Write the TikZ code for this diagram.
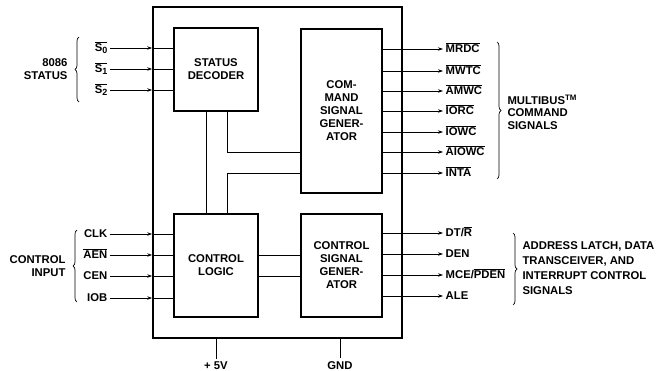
\documentclass[tikz,border=0pt]{standalone}
\usepackage{fontspec}
\setmainfont{Liberation Sans}
\usetikzlibrary{arrows.meta,decorations.pathreplacing}
\newcommand{\ovl}[1]{$\overline{\hbox{#1}}$}
\newcommand{\sidx}[1]{\raisebox{-2pt}{\fontsize{9}{9}\selectfont #1}}

\begin{document}
\begin{tikzpicture}[x=1pt,y=-1pt,font=\fontsize{11.3}{13}\selectfont\bfseries,line join=miter,
  blk/.style={draw,line width=1.6pt,align=center,inner sep=0pt},
  pin/.style={inner sep=2.5pt,text height=7.5pt,text depth=0.5pt},
  sig/.style={line width=0.8pt},
  arr/.style={sig,-{Stealth[length=5pt,width=3.4pt]}},
  brc/.style={decorate,decoration={brace,amplitude=4pt},line width=0.7pt}]
\useasboundingbox (0,0) rectangle (663,371);
% chip and its four blocks
\node[blk,minimum width=249pt,minimum height=331pt] (chip) at (277.5,172.5) {};
\node[blk,minimum width=84pt,minimum height=83pt] (dec) at (216,69.5) {STATUS\\DECODER};
\node[blk,minimum width=81pt,minimum height=164pt] (cmd) at (341.5,111) {COM-\\MAND\\SIGNAL\\GENER-\\ATOR};
\node[blk,minimum width=84pt,minimum height=103pt] (ctl) at (216,265.5) {CONTROL\\LOGIC};
\node[blk,minimum width=81pt,minimum height=103pt] (csg) at (341.5,265.5) {CONTROL\\SIGNAL\\GENER-\\ATOR};
% internal wiring
\draw[sig] ([xshift=-10pt]dec.south) -- ([xshift=-10pt]ctl.north);
\draw[sig] ([xshift=11pt]dec.south) |- ([yshift=-41pt]cmd.west);
\draw[sig] ([xshift=11pt]ctl.north) |- ([yshift=-62pt]cmd.west);
\draw[sig] ([yshift=10.5pt]ctl.east) -- ([yshift=10.5pt]csg.west);
\draw[sig] ([yshift=-10.5pt]ctl.east) -- ([yshift=-10.5pt]csg.west);
% status inputs
\node[pin,anchor=east] (s0) at (110,48) {\ovl{S\sidx{0}}};
\node[pin,anchor=east] (s1) at (110,69) {\ovl{S\sidx{1}}};
\node[pin,anchor=east] (s2) at (110,90) {\ovl{S\sidx{2}}};
\draw[arr] (s0) -- (s0 -| chip.west); \draw[sig] (s0 -| chip.west) -- (s0 -| dec.west);
\draw[arr] (s1) -- (s1 -| chip.west); \draw[sig] (s1 -| chip.west) -- (s1 -| dec.west);
\draw[arr] (s2) -- (s2 -| chip.west); \draw[sig] (s2 -| chip.west) -- (s2 -| dec.west);
\draw[brc] (79,102) -- (79,37);
\node[align=right,anchor=east] (stat) at (71,69.5) {8086\\STATUS};
% control inputs
\node[pin,anchor=east] (clk) at (110,234) {CLK};
\node[pin,anchor=east] (aen) at (110,255) {\ovl{AEN}};
\node[pin,anchor=east] (cen) at (110,276) {CEN};
\node[pin,anchor=east] (iob) at (110,298) {IOB};
\draw[arr] (clk) -- (clk -| chip.west); \draw[sig] (clk -| chip.west) -- (clk -| ctl.west);
\draw[arr] (aen) -- (aen -| chip.west); \draw[sig] (aen -| chip.west) -- (aen -| ctl.west);
\draw[arr] (cen) -- (cen -| chip.west); \draw[sig] (cen -| chip.west) -- (cen -| ctl.west);
\draw[arr] (iob) -- (iob -| chip.west); \draw[sig] (iob -| chip.west) -- (iob -| ctl.west);
\draw[brc] (77,302) -- (77,230);
\node[align=right,anchor=east] (cin) at (69,266) {CONTROL\\INPUT};
% command outputs
\node[pin,anchor=west] (mrdc) at (443,49) {\ovl{MRDC}};
\node[pin,anchor=west] (mwtc) at (443,71) {\ovl{MWTC}};
\node[pin,anchor=west] (amwc) at (443,91) {\ovl{AMWC}};
\node[pin,anchor=west] (iorc) at (443,111) {\ovl{IORC}};
\node[pin,anchor=west] (iowc) at (443,132) {\ovl{IOWC}};
\node[pin,anchor=west] (aiowc) at (443,152) {\ovl{AIOWC}};
\node[pin,anchor=west] (inta) at (443,173) {\ovl{INTA}};
\draw[arr] (mrdc -| cmd.east) -- (mrdc);
\draw[arr] (mwtc -| cmd.east) -- (mwtc);
\draw[arr] (amwc -| cmd.east) -- (amwc);
\draw[arr] (iorc -| cmd.east) -- (iorc);
\draw[arr] (iowc -| cmd.east) -- (iowc);
\draw[arr] (aiowc -| cmd.east) -- (aiowc);
\draw[arr] (inta -| cmd.east) -- (inta);
\draw[brc] (497,42) -- (497,179);
\node[align=left,anchor=west,font=\fontsize{11.3}{12.5}\selectfont\bfseries] (mbus) at (504,112) {MULTIBUS\textsuperscript{TM}\\COMMAND\\SIGNALS};
% bus control outputs
\node[pin,anchor=west] (dtr) at (443,233) {DT/\ovl{R}};
\node[pin,anchor=west] (den) at (443,254) {DEN};
\node[pin,anchor=west] (mce) at (443,275) {MCE/\ovl{PDEN}};
\node[pin,anchor=west] (ale) at (443,296) {ALE};
\draw[arr] (dtr -| csg.east) -- (dtr);
\draw[arr] (den -| csg.east) -- (den);
\draw[arr] (mce -| csg.east) -- (mce);
\draw[arr] (ale -| csg.east) -- (ale);
\draw[brc] (513,233) -- (513,305);
\node[align=left,anchor=west,font=\fontsize{11.3}{15}\selectfont\bfseries] (alt) at (519,268) {ADDRESS LATCH, DATA\\TRANSCEIVER, AND\\INTERRUPT CONTROL\\SIGNALS};
% supply pins
\node (vcc) at (216,366) {+ 5V};
\node (gnd) at (340,366) {GND};
\draw[sig] (chip.south -| vcc) -- (vcc);
\draw[sig] (chip.south -| gnd) -- (gnd);
\end{tikzpicture}
\end{document}
